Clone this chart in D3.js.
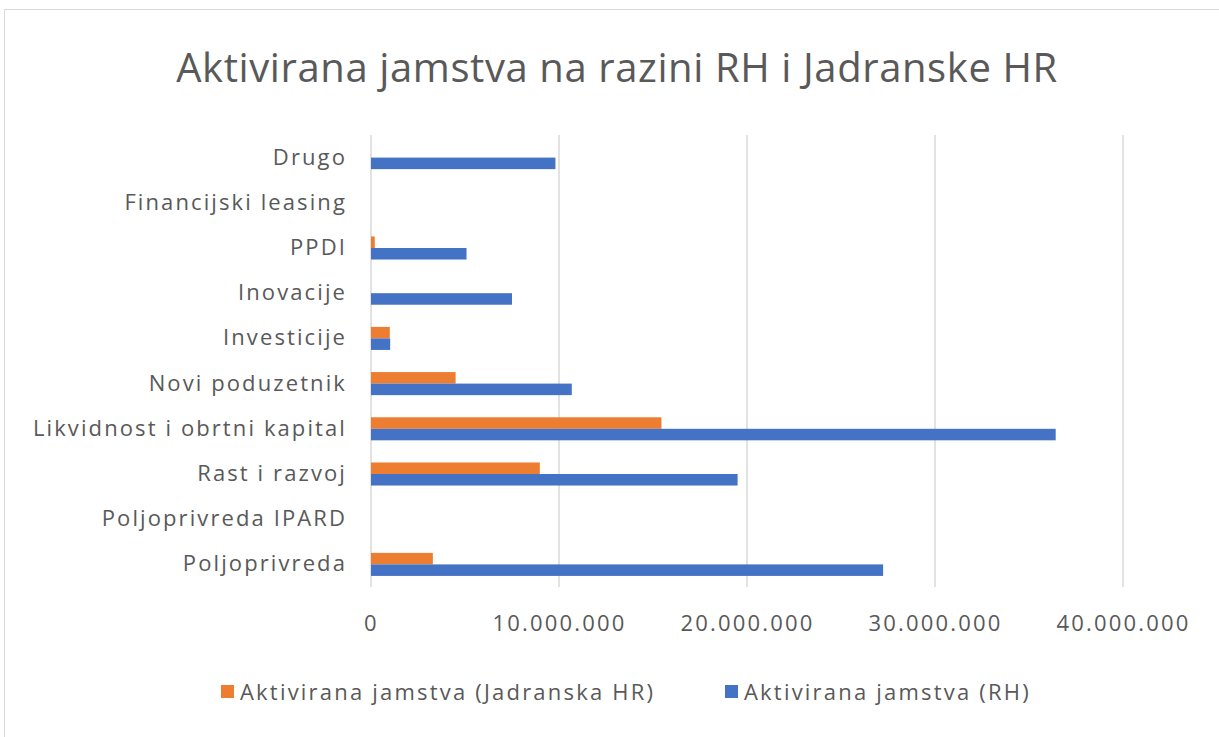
<!DOCTYPE html>
<html>
<head>
<meta charset="utf-8">
<script src="https://cdn.jsdelivr.net/npm/d3@7"></script>
<style>
  body { margin: 0; background: #fff; }
  text { font-family: "Open Sans", sans-serif; fill: #595959; }
</style>
</head>
<body>
<svg id="chart" width="1219" height="737"></svg>
<script>
const categories = ["Drugo", "Financijski leasing", "PPDI", "Inovacije", "Investicije",
  "Novi poduzetnik", "Likvidnost i obrtni kapital", "Rast i razvoj", "Poljoprivreda IPARD", "Poljoprivreda"];
const seriesNames = ["Aktivirana jamstva (Jadranska HR)", "Aktivirana jamstva (RH)"];
const jadranska = [0, 0, 200000, 0, 1000000, 4500000, 15450000, 8980000, 0, 3290000];
const rh = [9810000, 0, 5080000, 7500000, 1020000, 10680000, 36420000, 19500000, 0, 27240000];
const xTicks = [0, 10000000, 20000000, 30000000, 40000000];
const colors = ["#ED7D31", "#4472C4"];

const svg = d3.select("#chart");
const margin = { top: 135, left: 371, right: 96, bottom: 150 };
const width = 1219 - margin.left - margin.right;
const height = 737 - margin.top - margin.bottom;

svg.append("rect").attr("x", 4.5).attr("y", 9.5).attr("width", 1230).attr("height", 740)
  .attr("fill", "#fff").attr("stroke", "#d9d9d9");

svg.append("text").attr("x", 617).attr("y", 82).attr("text-anchor", "middle")
  .attr("font-size", "40px").attr("letter-spacing", "0.6px")
  .text("Aktivirana jamstva na razini RH i Jadranske HR");

const g = svg.append("g").attr("transform", `translate(${margin.left},${margin.top})`);

const x = d3.scaleLinear().domain([0, 40000000]).range([0, 752]);
const y0 = d3.scaleBand().domain(categories).range([0, height]).paddingInner(0.49).paddingOuter(0.245);
const y1 = d3.scaleBand().domain([0, 1]).range([0, y0.bandwidth()]);

// gridlines
g.selectAll("line.grid").data(xTicks).enter().append("line")
  .attr("x1", d => x(d)).attr("x2", d => x(d)).attr("y1", 0).attr("y2", height)
  .attr("stroke", "#d9d9d9").attr("stroke-width", 1.5);

const rows = categories.map((c, i) => ({ cat: c, vals: [jadranska[i], rh[i]] }));
const grp = g.selectAll("g.row").data(rows).enter().append("g")
  .attr("transform", d => `translate(0,${y0(d.cat)})`);
grp.selectAll("rect").data(d => d.vals.map((v, k) => ({ v, k }))).enter()
  .filter(d => d.v > 0)
  .append("rect")
  .attr("x", 0).attr("y", d => y1(d.k)).attr("height", y1.bandwidth())
  .attr("width", d => x(d.v)).attr("fill", d => colors[d.k]);

// category labels
const yAxis = g.append("g").call(d3.axisLeft(y0).tickSize(0).tickPadding(24));
yAxis.select(".domain").remove();
yAxis.selectAll("text").attr("font-size", "22px").attr("fill", "#595959")
  .attr("letter-spacing", "2.1px");

// x tick labels
const fmt = d => d3.format(",")(d).replace(/,/g, ".");
const xAxis = g.append("g").attr("transform", `translate(0,${height})`)
  .call(d3.axisBottom(x).tickValues(xTicks).tickFormat(fmt).tickSize(0).tickPadding(28));
xAxis.select(".domain").remove();
xAxis.selectAll("text").attr("font-size", "22px").attr("fill", "#595959")
  .attr("letter-spacing", "2.2px");

// legend
const legX = [221, 725];
const leg = svg.selectAll("g.leg").data(seriesNames).enter().append("g")
  .attr("transform", (d, i) => `translate(${legX[i]},692)`);
leg.append("rect").attr("x", 0).attr("y", -7).attr("width", 13).attr("height", 13)
  .attr("fill", (d, i) => colors[i]);
leg.append("text").attr("x", 19).attr("y", 8).attr("font-size", "22px")
  .attr("letter-spacing", "2.2px").text(d => d);
</script>
</body>
</html>
